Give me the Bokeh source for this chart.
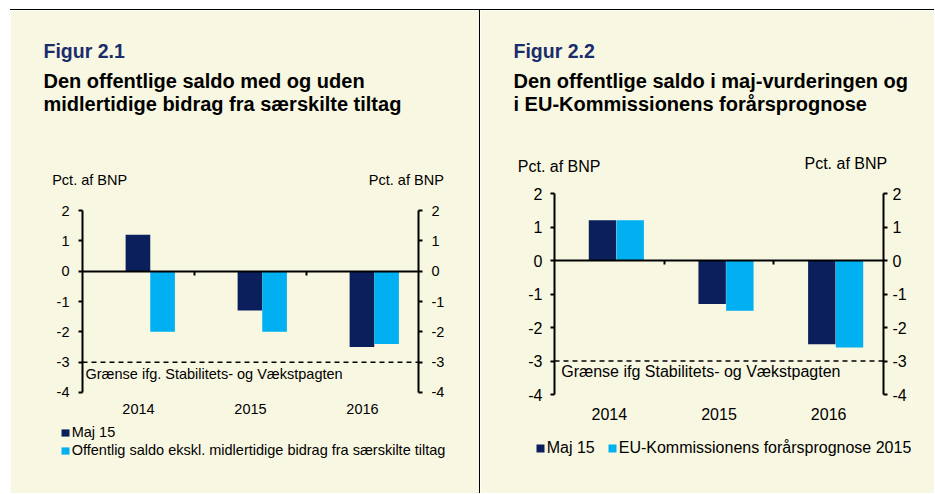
from bokeh.plotting import figure
from bokeh.models import (Range1d, LinearAxis, FixedTicker, Label, Legend, LegendItem)
from bokeh.layouts import row
from bokeh.embed import file_html
from bokeh.resources import INLINE

# ---------------- data ----------------
years = ["2014", "2015", "2016"]
left_maj = [1.2, -1.3, -2.5]
left_excl = [-2.0, -2.0, -2.4]
right_maj = [1.2, -1.3, -2.5]
right_eu = [1.2, -1.5, -2.6]
limit = -3
y_ticks = [-4, -3, -2, -1, 0, 1, 2]

left_title = ["Den offentlige saldo med og uden", "midlertidige bidrag fra særskilte tiltag"]
right_title = ["Den offentlige saldo i maj-vurderingen og", "i EU-Kommissionens forårsprognose"]
left_series = ["Maj 15", "Offentlig saldo ekskl. midlertidige bidrag fra særskilte tiltag"]
right_series = ["Maj 15", "EU-Kommissionens forårsprognose 2015"]

DARK = "#0A1F5C"
LIGHT = "#00B0F0"
NAVY_TXT = "#1A2C6C"
BG = "#F8F7E1"
FONT = "Liberation Sans"


def panel(width, height, xr, yr, borders, fs, s1, s2, names, offsets, bw, fig_name,
          title_lines, pos, limit_label, legend_cfg, std):
    bl, br, bt, bb = borders
    p = figure(width=width, height=height, x_range=Range1d(*xr), y_range=Range1d(*yr),
               x_axis_type=None, y_axis_type=None, toolbar_location=None,
               output_backend="svg", min_border_left=bl, min_border_right=br,
               min_border_top=bt, min_border_bottom=bb)
    p.background_fill_color = BG
    p.border_fill_color = BG
    p.outline_line_color = None
    n = len(years)
    xs = [i + 0.5 for i in range(n)]

    r1 = p.vbar(x=[x + offsets[0] for x in xs], top=s1, width=bw, fill_color=DARK, line_color=None)
    r2 = p.vbar(x=[x + offsets[1] for x in xs], top=s2, width=bw, fill_color=LIGHT, line_color=None)

    # limit line (-3 %)
    p.line(x=[0, n], y=[limit, limit], line_color="black", line_width=1.5, line_dash="5 4")

    def yaxis(loc, standoff):
        ax = LinearAxis(ticker=FixedTicker(ticks=y_ticks), fixed_location=loc,
                        bounds=(min(y_ticks), max(y_ticks)),
                        major_label_overrides={t: str(t) for t in y_ticks})
        ax.axis_line_width = 2
        ax.axis_line_color = "black"
        ax.major_tick_line_width = 2
        ax.major_tick_out = 4
        ax.major_tick_in = 0
        ax.minor_tick_line_color = None
        ax.major_label_text_font = FONT
        ax.major_label_text_font_size = fs
        ax.major_label_text_color = "black"
        ax.major_label_standoff = standoff
        return ax

    p.add_layout(yaxis(0, std[0]), "left")
    p.add_layout(yaxis(n, std[1]), "right")

    # category labels under the -4 line
    ca = LinearAxis(ticker=FixedTicker(ticks=xs), fixed_location=min(y_ticks),
                    major_label_overrides={x: y for x, y in zip(xs, years)})
    ca.axis_line_color = None
    ca.major_tick_line_color = None
    ca.major_tick_out = 0
    ca.major_tick_in = 0
    ca.minor_tick_line_color = None
    ca.major_label_standoff = std[2]
    ca.major_label_text_font = FONT
    ca.major_label_text_font_size = fs
    ca.major_label_text_color = "black"
    p.add_layout(ca, "below")

    # zero line with ticks at the category boundaries (pointing down)
    za = LinearAxis(ticker=FixedTicker(ticks=list(range(1, n))), fixed_location=0,
                    bounds=(0, n), major_label_overrides={i: "" for i in range(1, n)})
    za.axis_line_width = 2
    za.axis_line_color = "black"
    za.major_tick_line_width = 2
    za.major_tick_out = 0
    za.major_tick_in = 4
    za.minor_tick_line_color = None
    za.major_label_text_font_size = "1px"
    za.major_label_standoff = 0
    p.add_layout(za, "above")

    def lab(x, y, text, size, bold=False, color="black", align="left"):
        p.add_layout(Label(x=x, y=y, x_units="screen", y_units="screen", text=text,
                           text_font=FONT, text_font_size=size,
                           text_font_style="bold" if bold else "normal",
                           text_color=color, text_baseline="alphabetic", text_align=align))

    fx, fy = pos["fig"]
    lab(fx, fy, fig_name, "19.5px", True, NAVY_TXT)
    tx, ty1, ty2 = pos["title"]
    lab(tx, ty1, title_lines[0], "20px", True)
    lab(tx, ty2, title_lines[1], "20px", True)
    (px1, py1), (px2, py2) = pos["pct"]
    lab(px1, py1, "Pct. af BNP", fs)
    lab(px2, py2, "Pct. af BNP", fs, align="right")
    gx, gy = pos["limit"]
    lab(gx, gy, limit_label, fs)

    legend = Legend(items=[LegendItem(label=names[0], renderers=[r1]),
                           LegendItem(label=names[1], renderers=[r2])],
                    location=legend_cfg["loc"], orientation=legend_cfg["orient"])
    legend.background_fill_alpha = 0
    legend.border_line_color = None
    legend.padding = 0
    legend.margin = 0
    legend.spacing = legend_cfg["spacing"]
    legend.glyph_width = 10
    legend.glyph_height = legend_cfg["gh"]
    legend.label_standoff = 2
    legend.label_height = 18
    legend.label_text_font = FONT
    legend.label_text_font_size = fs
    legend.label_text_color = "black"
    p.add_layout(legend)
    return p


left = panel(469, 484, (-0.375, 3.2768), (-6.2418, 8.198), (30, 30, 12, 34), "14.5px",
             left_maj, left_excl, left_series, (-0.005, 0.215), 0.22, "Figur 2.1", left_title,
             {"fig": (3, 410), "title": (3, 380, 357),
              "pct": ((11.7, 280.7), (403.3, 280.7)), "limit": (45, 86.7)},
             "Grænse ifg. Stabilitets- og Vækstpagten",
             {"loc": (19.7, 1), "orient": "vertical", "spacing": 0, "gh": 9}, (9, 9, 12))
left.styles = {"margin-left": "10px", "margin-top": "9px", "border-top": "1px solid black"}

right = panel(455, 484, (-0.4012, 3.2553), (-5.9701, 7.1045), (30, 24, 12, 34), "16px",
              right_maj, right_eu, right_series, (-0.0625, 0.19), 0.25, "Figur 2.2", right_title,
              {"fig": (3, 410), "title": (3, 380, 357),
               "pct": ((7.3, 294.5), (376.7, 297.2)), "limit": (50.7, 89.5)},
              "Grænse ifg Stabilitets- og Vækstpagten",
              {"loc": (24.7, 3.5), "orient": "horizontal", "spacing": 12, "gh": 10}, (8, 5, 13))
right.styles = {"margin-top": "9px", "border-top": "1px solid black",
                "border-left": "1px solid black"}

layout = row(left, right)
open("out.html", "w").write(file_html(layout, INLINE))
